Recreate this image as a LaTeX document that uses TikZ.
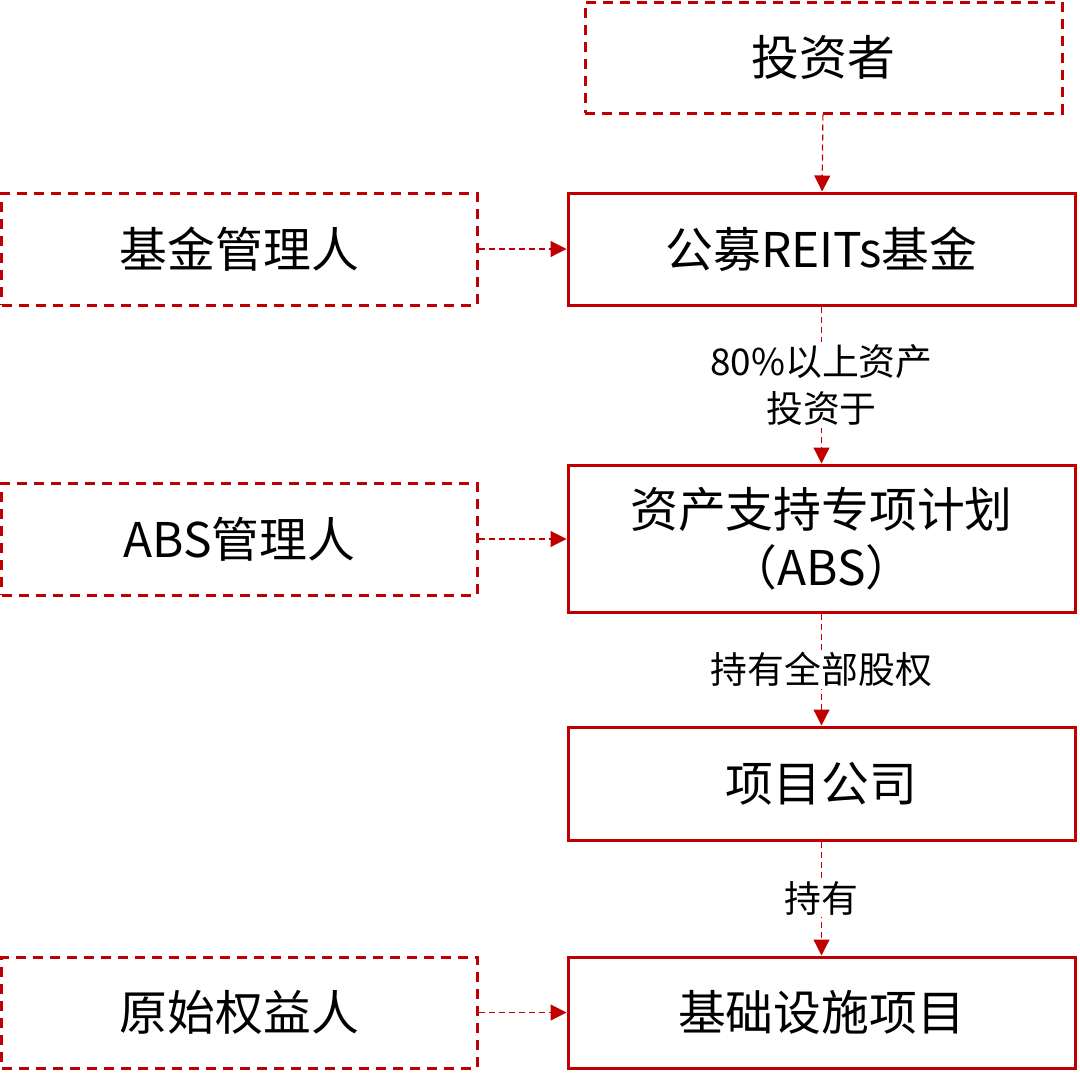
\documentclass[tikz,border=0pt]{standalone}
\usepackage{fontspec}
\setmainfont{Noto Sans CJK SC}
\usetikzlibrary{arrows.meta}
\definecolor{dred}{HTML}{C00000}
\begin{document}
\begin{tikzpicture}[x=1bp,y=-1bp,
  box/.style={draw=dred,line width=3bp,minimum width=#1,inner sep=0pt,align=center,font=\fontsize{48}{58}\selectfont},
  dbox/.style={box=#1,dash pattern=on 10bp off 7bp},
  arr/.style={draw=dred,line width=1.2bp,dash pattern=on 6bp off 4bp,-{Triangle[length=16bp,width=16bp]}},
  lab/.style={fill=white,inner sep=2bp,align=center,font=\fontsize{37}{48}\selectfont}]
\useasboundingbox (0,0) rectangle (1080,1075);
\node[dbox=477bp,minimum height=111bp] (inv) at (823.5,57.5) {投资者};
\node[box=507bp,minimum height=112bp] (fund) at (821.5,249) {公募REITs基金};
\node[dbox=475bp,minimum height=112bp] (fm) at (239.5,249) {基金管理人};
\node[dbox=475bp,minimum height=112bp] (am) at (239.5,539) {ABS管理人};
\node[box=507bp,minimum height=147bp] (abs) at (821.5,538.5) {资产支持专项计划\\（ABS）};
\node[box=507bp,minimum height=113bp] (pc) at (821.5,783.5) {项目公司};
\node[dbox=475bp,minimum height=111bp] (oo) at (239.5,1012.5) {原始权益人};
\node[box=507bp,minimum height=111bp] (inf) at (821.5,1012.5) {基础设施项目};
\draw[arr] (inv) -- (fund);
\draw[arr] (fund) -- node[lab]{80\%以上资产\\投资于} (abs);
\draw[arr] (abs) -- node[lab]{持有全部股权} (pc);
\draw[arr] (pc) -- node[lab]{持有} (inf);
\draw[arr] (fm) -- (fund);
\draw[arr] (am) -- (am -| abs.west);
\draw[arr] (oo) -- (inf);
\end{tikzpicture}
\end{document}
